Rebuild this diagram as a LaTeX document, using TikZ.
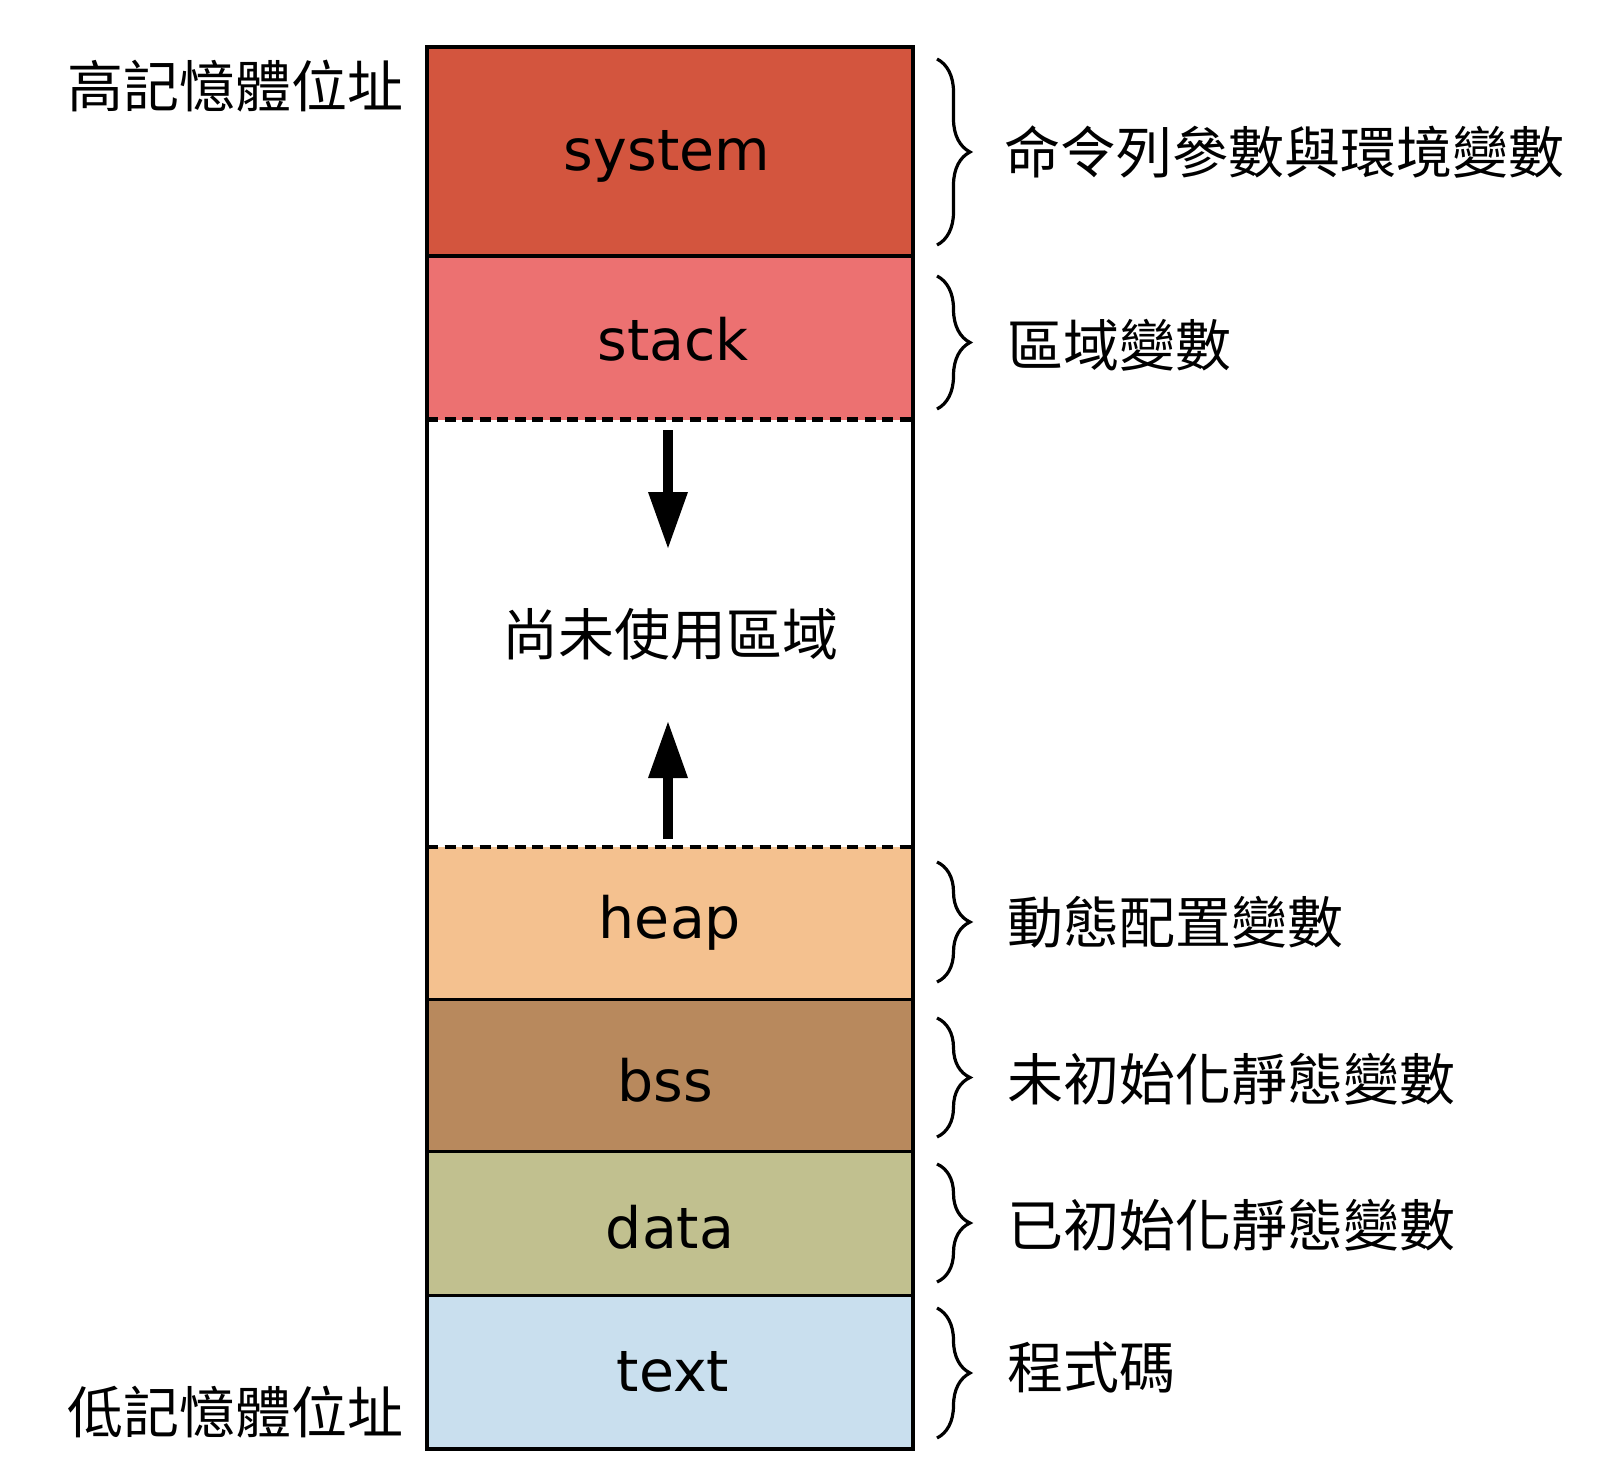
\documentclass[tikz,border=0pt]{standalone}
\usepackage{fontspec}
\usetikzlibrary{arrows.meta,decorations.pathreplacing}
\newfontfamily\latfont{DejaVu Sans}
\newfontfamily\cjkfont{Noto Sans CJK TC}
\definecolor{sysc}{RGB}{211,85,62}
\definecolor{stkc}{RGB}{236,113,113}
\definecolor{heapc}{RGB}{244,193,143}
\definecolor{bssc}{RGB}{184,137,93}
\definecolor{datac}{RGB}{193,192,143}
\definecolor{textc}{RGB}{201,223,238}
\begin{document}
\begin{tikzpicture}[x=1pt,y=-1pt,
  lat/.style={font=\latfont\fontsize{57}{62}\selectfont, inner sep=0pt, anchor=mid},
  cjk/.style={font=\cjkfont\fontsize{56}{60}\selectfont, inner sep=0pt},
  brc/.style={decorate, decoration={brace, amplitude=33pt}, line width=3.2pt},
  solidline/.style={line width=3.5pt},
  dashline/.style={line width=4.5pt, dash pattern=on 11pt off 6.5pt},
  arr/.style={line width=10pt, -{Triangle[length=56pt,width=40pt,line width=0pt]}}
]
\useasboundingbox (0,0) rectangle (1624,1482);
\fill[white] (0,0) rectangle (1624,1482);
% segment fills
\fill[sysc]  (427,47)    rectangle (913,256);
\fill[stkc]  (427,256)   rectangle (913,419.5);
\fill[heapc] (427,847)   rectangle (913,999.5);
\fill[bssc]  (427,999.5) rectangle (913,1151.7);
\fill[datac] (427,1151.7) rectangle (913,1295.7);
\fill[textc] (427,1295.7) rectangle (913,1449);
% separators
\draw[solidline] (427,256) -- (913,256);
\draw[dashline] (427,419.5) -- (913,419.5);
\draw[dashline] (427,847) -- (913,847);
\draw[solidline] (427,999.5) -- (913,999.5);
\draw[solidline] (427,1151.7) -- (913,1151.7);
\draw[solidline] (427,1295.7) -- (913,1295.7);
\draw[line width=4pt] (427,47) rectangle (913,1449);
% segment labels
\node[lat] (system) at (667,168) {system};
\node[lat] (stack) at (673,358) {stack};
\node[cjk] (unused) at (670,634) {尚未使用區域};
\node[lat] (heap) at (670,936) {heap};
\node[lat] (bss) at (665,1099) {bss};
\node[lat] (data) at (670,1246) {data};
\node[lat] (text) at (673,1389) {text};
% arrows
\coordinate (dtop) at (668,430);
\coordinate (dtip) at (668,548);
\coordinate (ubot) at (668,839);
\coordinate (utip) at (668,722);
\draw[arr] (dtop) -- (dtip);
\draw[arr] (ubot) -- (utip);
% left labels
\node[cjk] (high) at (235,86) {高記憶體位址};
\node[cjk] (low) at (235,1412) {低記憶體位址};
% braces
\coordinate (b1t) at (937,59);   \coordinate (b1b) at (937,245);
\coordinate (b2t) at (937,276);  \coordinate (b2b) at (937,409);
\coordinate (b3t) at (937,862);  \coordinate (b3b) at (937,982);
\coordinate (b4t) at (937,1018); \coordinate (b4b) at (937,1137);
\coordinate (b5t) at (937,1164); \coordinate (b5b) at (937,1282);
\coordinate (b6t) at (937,1308); \coordinate (b6b) at (937,1438);
\draw[brc] (b1t) -- (b1b);
\draw[brc] (b2t) -- (b2b);
\draw[brc] (b3t) -- (b3b);
\draw[brc] (b4t) -- (b4b);
\draw[brc] (b5t) -- (b5b);
\draw[brc] (b6t) -- (b6b);
% right labels
\node[cjk, anchor=west] (l1) at (1004,152) {命令列參數與環境變數};
\node[cjk, anchor=west] (l2) at (1007,345) {區域變數};
\node[cjk, anchor=west] (l3) at (1007,922) {動態配置變數};
\node[cjk, anchor=west] (l4) at (1007,1079) {未初始化靜態變數};
\node[cjk, anchor=west] (l5) at (1007,1225) {已初始化靜態變數};
\node[cjk, anchor=west] (l6) at (1007,1367) {程式碼};
\end{tikzpicture}
\end{document}
